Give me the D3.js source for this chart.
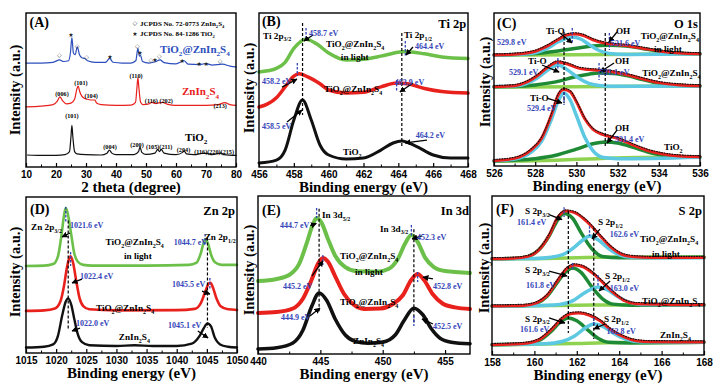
<!DOCTYPE html>
<html><head><meta charset="utf-8">
<script src="https://cdn.jsdelivr.net/npm/d3@7"></script>
<style>
body{margin:0;background:#fff;}
svg text{font-family:"Liberation Serif","Times New Roman",serif;font-weight:bold;}
</style></head><body>
<svg id="c" width="727" height="392"></svg>
<script>
// ---------------- DATA ----------------
// tick labels
const ticksA = [10,20,30,40,50,60,70,80];
const ticksB = [456,458,460,462,464,466,468];
const ticksC = [526,528,530,532,534,536];
const ticksD = [1015,1020,1025,1030,1035,1040,1045,1050];
const ticksE = [440,445,450,455];
const ticksF = [158,160,162,164,166,168];

// (A) XRD: [2theta, intensity]
const xrdTiO2 = [[10.5,7.8],[15,7.5],[20,7.5],[23,8],[24.5,10],[25,20],[25.3,27],[25.6,20],[26.2,10],[27,8.5],[30,8],[35,7.8],[37,9],[37.8,11],[38.6,9],[40,8],[46,8],[47.5,10],[48,13],[48.6,9.5],[50,8.2],[53,9],[53.9,11.5],[54.5,10],[55.1,11.5],[56,9],[60,8],[62.2,9.5],[62.7,10.5],[63.5,8.5],[66,8],[68.8,8.8],[70.3,8.8],[72,8],[75.1,9],[76,8],[80,7.5]];
const xrdZIS = [[10,39],[15,39.5],[19,40.5],[20.5,43],[21.3,45.5],[22.2,43],[23.5,41],[25,41.5],[26.2,44],[27,51],[27.4,52.5],[27.9,49],[28.6,46],[29.5,44.5],[30.5,44],[31.5,43.5],[33,43.5],[33.5,41.5],[35,40.5],[40,40],[45,40.2],[46.5,42],[47,52],[47.3,58],[47.6,52],[48.2,42],[49,40.5],[51,41],[52,42],[53,41.3],[55.5,42],[57,40.8],[60,40],[65,40],[70,40],[74,40.5],[76.3,41.8],[78,40.5],[80,40]];
const xrdComp = [[10,67.5],[15,67.5],[19,68],[21.2,69.5],[22.5,68.5],[24.2,69],[24.8,74],[25.3,84],[25.8,74],[26.4,73],[27.1,78],[27.8,73],[28.6,71],[29.6,70.5],[30.5,69],[33,68],[36.5,68],[37.9,70.5],[39,68],[42,67.5],[45,67.5],[46.6,69],[47.3,77],[47.8,72],[48.2,72.5],[48.8,68.5],[51,67.5],[53,68.3],[54.7,69.5],[56,67.8],[60,67],[62.7,69],[64,66.8],[68,66.5],[69.3,67],[70.3,67],[72,66.2],[75.5,66.8],[78,65.5],[80,65]];
const diamondPos = [[21.1,72.7],[27,78.8],[30.2,71.6],[47.1,78.8],[51.6,69.5],[54.4,72.3],[74.7,68.8]];
const starPos = [[25,85.7],[48,73.8],[38,71.6],[53,69.5],[62.1,68.8],[67.7,66.9],[70.1,66.9]];

// (B) Ti 2p
const tiTiO2 = [[456,2.6],[457,4.5],[457.5,11],[458,30.5],[458.5,43.5],[459,30.5],[459.5,14.3],[460,7.8],[461,5.2],[462,5.8],[463,11],[463.7,15.6],[464.2,16.9],[465,13.6],[466,7.8],[467,5.8],[468,5.8]];
const tiComp = [[456,39],[456.5,41],[457,45],[457.5,52],[458,59],[458.3,60.5],[458.8,58.5],[459.5,54],[460,50],[461,48],[462,48.5],[463,52],[463.9,54.5],[464.5,54],[465.5,51],[466.5,49],[468,48]];
const tiLight = [[456,61.7],[456.5,62.5],[457,64],[457.5,68],[458,77],[458.7,83],[459.3,80],[460,74],[461,69.5],[462,70],[463,72],[464,74.5],[464.4,75],[465.5,73.5],[466.5,71.5],[468,70.5]];

// (C) O 1s (top: in light, middle: composite, bottom: TiO2)
const oTopBase = [[526,72.5],[530,72.7],[533,73.1],[536,73.3]];
const oTopTiO = [[526,72.6],[527,72.8],[528,74],[528.6,77],[529.1,81],[529.5,83.5],[529.8,84.3],[530.2,83],[530.6,79.5],[531.1,75.5],[531.6,73.6],[532.5,72.9],[536,73.3]];
const oTopOH = [[526,72.5],[527,72.8],[528,73.5],[529,75],[530,77],[530.8,78.5],[531.6,79],[532.4,78.5],[533.2,76.8],[534,75],[535,73.7],[536,73.3]];
const oTopEnv = [[526,72.5],[527,73],[528,75],[528.6,78.5],[529.1,82.5],[529.5,85.5],[529.9,86.3],[530.3,85.5],[530.8,82.5],[531.3,80.5],[531.8,79.5],[532.4,78.8],[533.2,77],[534,75.2],[535,73.8],[536,73.3]];
const oMidBase = [[526,51.6],[530,51.8],[533,52.2],[536,52.3]];
const oMidTiO = [[526,52],[527,52.3],[527.6,54],[528.1,57.5],[528.6,62.5],[529.1,66],[529.6,62.5],[530.1,57.5],[530.6,54],[531.2,52.5],[532,52.1],[536,52.3]];
const oMidOH = [[526,51.8],[527,52],[528,53],[529,55],[530,58.5],[530.6,60],[531.1,60.8],[531.8,60.5],[532.5,59],[533.2,56.5],[534,54],[535,52.8],[536,52.3]];
const oMidEnv = [[526,51.8],[527,52.5],[527.6,55],[528.1,59],[528.6,64.5],[529.1,68],[529.6,66.5],[530.1,64],[530.6,63],[531.1,62.5],[531.8,61.5],[532.5,59.5],[533.2,57],[534,54.5],[535,53],[536,52.4]];
const oBotBase = [[526,3.2],[529,3.8],[531,4.8],[533,5.6],[536,5.9]];
const oBotTiO = [[526,3.5],[527,4.5],[527.8,9],[528.3,16],[528.8,31],[529.1,42],[529.4,47.7],[529.7,43],[530,33],[530.4,19],[530.8,10],[531.3,5.5],[532,4.8],[536,5.8]];
const oBotOH = [[526,3.3],[527,3.8],[528,4.8],[529,7],[530,11],[530.8,14.5],[531.4,15.7],[532,15],[532.8,12],[533.5,9],[534.2,7],[535,6.2],[536,5.9]];
const oBotEnv = [[526,3.5],[527,5],[527.8,10.5],[528.3,18],[528.8,34],[529.1,46],[529.4,50],[529.7,48.5],[530,42],[530.4,31],[530.8,24],[531.3,20.5],[532,18],[532.8,13.5],[533.5,10],[534.2,7.8],[535,6.5],[536,6]];

// (D) Zn 2p
const znLight = [[1015,55.8],[1018,56],[1019.5,57],[1020.3,62],[1020.9,76],[1021.3,88],[1021.6,93],[1022,88],[1022.5,76],[1023,64],[1023.6,58.5],[1024.5,56.5],[1026,56],[1035,56],[1042,56.5],[1043.3,58],[1044,64],[1044.5,71],[1044.8,73],[1045.2,70],[1045.7,63],[1046.4,58],[1047.5,56.5],[1050,56.5]];
const znComp = [[1015,27],[1018,27.3],[1019.8,28.5],[1020.7,33],[1021.3,43],[1021.8,55],[1022.2,61],[1022.4,62],[1022.8,58],[1023.3,47],[1023.9,35],[1024.5,30],[1025.5,28],[1030,27.3],[1040,27.5],[1043,28.3],[1044,32],[1044.8,40],[1045.3,44.5],[1045.6,45],[1046,42],[1046.6,35],[1047.3,30],[1048.5,28],[1050,27.6]];
const znZIS = [[1015,3.5],[1018,4],[1019.5,5.5],[1020.3,11],[1021,24],[1021.6,33],[1022,35],[1022.5,31],[1023,22],[1023.6,12],[1024.3,7],[1025.5,5],[1030,4.5],[1033,5],[1036,4.5],[1040,4.5],[1042.5,6],[1043.8,11],[1044.5,16],[1045.1,19],[1045.7,17],[1046.3,10],[1047.2,5.5],[1048.5,4],[1050,3.5]];

// (E) In 3d
const inLight = [[440,46.2],[441.5,47.5],[442.5,50],[443.3,57],[443.9,70],[444.4,82],[444.7,86],[445.1,83],[445.6,73],[446.2,62],[447,55],[448,52.3],[449.5,52],[450.5,54],[451.2,60],[451.8,70],[452.3,75.3],[452.8,71],[453.4,61],[454.1,55],[455,52.5],[457,51.3]];
const inComp = [[440,26],[441.5,26.6],[442.8,28.8],[443.6,35],[444.3,47],[444.8,57],[445.2,60.8],[445.6,58.5],[446.2,49],[446.9,38],[447.7,31],[448.5,28.5],[449.8,28.8],[450.8,31.5],[451.6,37],[452.3,47],[452.8,50.6],[453.3,47],[454,38],[454.8,32],[455.8,29.5],[457,28.5]];
const inZIS = [[440,3.2],[441.5,4],[442.8,7],[443.6,15],[444.3,30],[444.9,38.6],[445.5,34],[446.2,22],[447,12],[447.8,8],[448.8,6.8],[450,7.5],[451,12],[451.7,21],[452.5,29],[453.2,25],[453.9,16],[454.6,10],[455.5,7.5],[457,6.5]];

// (F) S 2p
const sTopBase = [[158,60.4],[160,60.6],[162,61.2],[164,61.6],[168,61.6]];
const sTop32 = [[158,60.5],[159,60.7],[159.7,62],[160.2,66],[160.7,75],[161.1,85],[161.4,89],[161.8,86],[162.2,77],[162.7,67],[163.2,62],[164,61.2],[168,61.5]];
const sTop12 = [[158,60.5],[160,60.7],[160.8,61.5],[161.4,63.5],[161.9,68],[162.3,72.5],[162.6,74.8],[163,72.5],[163.5,67],[164,63],[164.6,61.5],[165.5,61.2],[168,61.2]];
const sTopEnv = [[158,60.5],[159,60.8],[159.7,62],[160.2,66],[160.7,75.5],[161.1,86.5],[161.5,90.5],[161.9,89.5],[162.3,86],[162.7,81],[163.1,75],[163.6,68],[164.1,63.5],[164.7,61.8],[165.5,61.3],[168,61.3]];
const sMidBase = [[158,30.8],[160,31],[162,31.3],[164,31.5],[168,31.5]];
const sMid32 = [[158,30.8],[159.5,31],[160.1,32.5],[160.6,37],[161.1,46],[161.5,52.5],[161.8,54.7],[162.2,52],[162.7,43],[163.2,35.5],[163.7,32],[164.5,31.3],[168,31.5]];
const sMid12 = [[158,30.8],[160,31],[161.2,31.8],[161.8,34],[162.3,38.5],[162.7,41.5],[163,42.8],[163.4,41.2],[163.9,37],[164.4,33.5],[165,31.8],[168,31.5]];
const sMidEnv = [[158,30.8],[159.5,31.2],[160.1,32.8],[160.6,37.5],[161.1,47],[161.5,54],[161.9,56.6],[162.3,55.5],[162.8,51],[163.2,46],[163.7,39.5],[164.2,34.5],[164.8,32.3],[168,31.6]];
const sBotBase = [[158,6.3],[160,6.7],[162,7.3],[164,7.8],[168,8]];
const sBot32 = [[158,6.5],[159.5,7],[160.2,9],[160.8,15],[161.2,20.5],[161.6,23.3],[162,21.5],[162.5,16],[163,10.5],[163.5,8],[164.5,7.6],[168,8]];
const sBot12 = [[158,6.5],[160.5,7],[161.3,8.5],[161.9,12],[162.4,17],[162.8,19.5],[163.2,18.2],[163.7,14],[164.3,10],[165,8.3],[168,8.2]];
const sBotEnv = [[158,6.5],[159.5,7.2],[160.2,9.5],[160.8,16],[161.3,23],[161.7,26],[162.1,26.4],[162.6,25],[163.1,21.5],[163.6,16],[164.2,11.5],[164.8,9],[165.5,8.3],[168,8.2]];

// ---------------- STYLE / LAYOUT ----------------
const RED = "#e8211d", BLK = "#111", LGREEN = "#6cc04a", DGREEN = "#1e8a35", CYAN = "#5cc8e2", BASEG = "#8fd24f", ABLUE = "#2d4fbd", TXTBLUE = "#3446b8";
const STY = {panel:{s:14}, big:{s:12.5}, lab:{s:9.2}, ev:{s:8,c:TXTBLUE}, leg:{s:7}, hkl:{s:6.2}, alab:{s:11}};

function fitSet(top, mid, bot){
  const out=[];
  [top,mid,bot].forEach(s=>{
    out.push({d:s[0], c:BASEG, w:3.5});
    out.push({d:s[2], c:DGREEN, w:3.5});
    out.push({d:s[1], c:CYAN, w:3.5});
    out.push({d:s[3], c:RED, w:3});
    out.push({d:s[3], c:BLK, w:1.1, dash:"1,1.6", dy:-1.2});
  });
  return out;
}

const panels = [
 {l:26,r:236,t:13,b:167, dom:[10,80], ticks:ticksA, title:"2 theta (degree)", yl:[20,90],
  curves:[{d:xrdComp,c:ABLUE,w:1.2},{d:xrdZIS,c:RED,w:1.2},{d:xrdTiO2,c:BLK,w:1.2}],
  vlines:[], marks:[], arrows:[],
  labels:[["(A)",11.2,90.9,"panel"],["JCPDS No. 72-0773 ZnIn_2S_4",48,91.6,"leg"],["JCPDS No. 84-1286 TiO_2",48,85,"leg"],
   ["TiO_2@ZnIn_2S_4",54.7,74.2,"alab",ABLUE],["ZnIn_2S_4",62,46.5,"alab",RED],["TiO_2",63,16.9,"alab"],
   ["(006)",22,46,"hkl",null,"middle"],["(101)",28.3,53,"hkl",null,"middle"],["(104)",31.7,44.5,"hkl",null,"middle"],["(110)",46.7,57.5,"hkl",null,"middle"],
   ["(116)",51.8,41.6,"hkl",null,"middle"],["(202)",56.7,41.6,"hkl",null,"middle"],["(213)",74.7,38,"hkl",null,"middle"],
   ["(101)",25.3,32.1,"hkl",null,"middle"],["(004)",38,12,"hkl",null,"middle"],["(200)",47,13.3,"hkl",null,"middle"],["(105)(211)",54.4,11.7,"hkl",null,"middle"],
   ["(204)",62.5,9.9,"hkl",null,"middle"],["(116)(220)(215)",72.7,8.4,"hkl",null,"middle"]],
  sym:true},
 {l:259,r:468,t:13,b:167, dom:[456,468], ticks:ticksB, title:"Binding energy (eV)", yl:[254,88],
  curves:[{d:tiLight,c:LGREEN,w:3.5},{d:tiComp,c:RED,w:3.5},{d:tiTiO2,c:BLK,w:3}],
  vlines:[[458.5,93.5,33.8],[464.2,87,13]],
  marks:[[458.7,90.3,82.5],[464.4,81.8,71.4],[458.2,67.5,59.1],[463.9,56.5,48.7]],
  arrows:[[459.1,85.7,458.58,81.8],[457.32,51.9,458.18,57.1],[464.84,54.5,464.09,48.7],[457.61,29.2,458.47,37],[465.64,17.5,464.38,15.6],[464.84,77.9,464.44,72.7]],
  labels:[["(B)",456.17,91.6,"panel"],["Ti 2p",467.9,90.3,"big",null,"end"],["Ti 2p_{3/2}",456.23,83.4,"lab"],["458.7 eV",458.87,85,"ev"],
   ["Ti 2p_{1/2}",464.32,83.6,"lab"],["TiO_2@ZnIn_2S_4",459.85,77.8,"lab"],["in light",460.7,69.3,"lab"],["464.4 eV",464.95,76.5,"ev"],
   ["458.2 eV",456.17,53.9,"ev"],["TiO_2@ZnIn_2S_4",459.73,48.7,"lab"],["463.9 eV",463.8,53.2,"ev"],["458.5 eV",456.17,24.7,"ev"],
   ["464.2 eV",465.0,18.8,"ev"],["TiO_2",460.82,7.8,"lab"]]},
 {l:494,r:700,t:13,b:166, dom:[526,536], ticks:ticksC, title:"Binding energy (eV)", yl:[490,82],
  curves:fitSet([oTopBase,oTopTiO,oTopOH,oTopEnv],[oMidBase,oMidTiO,oMidOH,oMidEnv],[oBotBase,oBotTiO,oBotOH,oBotEnv]),
  vlines:[[529.4,87.6,41],[531.4,87,12.4]],
  marks:[[529.8,90.2,81],[531.6,86.9,75.8],[529.1,70.6,62.7],[531.1,67.3,56.2],[529.4,48.4,39.9]],
  arrows:[[529.2,86.9,529.79,80.4],[531.97,87.6,531.58,81],[528.33,66,529.16,61.4],[531.83,67.3,531.15,61.4],[528.57,44.4,529.3,41.2],[531.97,23.5,531.49,15]],
  labels:[["(C)",526.15,90.2,"panel"],["O 1s",535.9,90.2,"big",null,"end"],["Ti-O",528.52,86.2,"lab"],["529.8 eV",526.15,79.1,"ev"],
   ["OH",531.92,86.2,"lab"],["531.6 eV",531.68,78.5,"ev"],["TiO_2@ZnIn_2S_4",533.12,82.8,"lab"],["in light",533.77,74.4,"lab"],
   ["Ti-O",527.65,66.5,"lab"],["529.1 eV",526.73,59.5,"ev"],["OH",531.87,66.5,"lab"],["531.1 eV",531.15,59.5,"ev"],["TiO_2@ZnIn_2S_4",533.2,58.8,"lab"],
   ["Ti-O",527.75,42.5,"lab"],["529.4 eV",527.6,36.2,"ev"],["OH",531.87,22.8,"lab"],["531.4 eV",531.87,16,"ev"],["TiO_2",534.25,10.5,"lab"]]},
 {l:26,r:237,t:197,b:353, dom:[1015,1050], ticks:ticksD, title:"Binding energy (eV)", yl:[20,272],
  curves:[{d:znLight,c:LGREEN,w:2.6},{d:znComp,c:RED,w:2.6},{d:znZIS,c:BLK,w:2.4}],
  vlines:[[1022,85,15],[1045.1,74,16]],
  marks:[[1021.6,93.6,84],[1044.7,76.3,68.6],[1022.4,64.7,55.8],[1045.5,48,40.4]],
  arrows:[[1022.3,76.9,1020.97,74.4],[1024.29,47.4,1022.63,44.9],[1044.2,39.7,1045.5,37.8],[1023.96,16,1022.63,14.1],[1043.5,14.1,1045.2,9.6]],
  labels:[["(D)",1015.66,89.1,"panel"],["Zn 2p",1049.66,88.5,"big",null,"end"],["Zn 2p_{3/2}",1015.83,78.8,"lab"],["1021.6 eV",1022.3,80.1,"ev"],
   ["Zn 2p_{1/2}",1044.65,72.5,"lab"],["TiO_2@ZnIn_2S_4",1028.2,69.2,"lab"],["1044.7 eV",1039.5,69.2,"ev"],["in light",1031.25,60.3,"lab"],
   ["1022.4 eV",1023.95,47.4,"ev"],["1045.5 eV",1039.2,42.3,"ev"],["TiO_2@ZnIn_2S_4",1026.6,26.9,"lab"],["1022.0 eV",1023.3,17.3,"ev"],
   ["1045.1 eV",1038.55,16,"ev"],["ZnIn_2S_4",1030.4,8.3,"lab"]]},
 {l:258,r:470,t:196,b:354, dom:[440,457], ticks:ticksE, title:"Binding energy (eV)", yl:[254,270],
  curves:[{d:inLight,c:LGREEN,w:4},{d:inComp,c:RED,w:4},{d:inZIS,c:BLK,w:3.6}],
  vlines:[[444.9,92,27],[452.5,79,19.6]],
  marks:[[444.7,92.4,86],[452.3,81.6,74],[445.2,62.7,56.3],[452.8,51.9,45.6],[452.5,24,17.7]],
  arrows:[[444.2,81.2,444.68,82.6],[453.15,74.7,452.35,72.8],[444.33,49.4,445.21,58.9],[454.03,47.5,453.23,48.7],[444.17,24,444.97,29.1],[454.03,19,453.15,22.2]],
  labels:[["(E)",440.32,88,"panel"],["In 3d",456.92,88,"big",null,"end"],["In 3d_{5/2}",445.13,86.1,"lab"],["444.7 eV",441.76,79.7,"ev"],
   ["In 3d_{3/2}",449.78,77.5,"lab"],["452.3 eV",452.75,72.3,"ev"],["TiO_2@ZnIn_2S_4",446.58,60.1,"lab"],["in light",447.78,50,"lab"],
   ["445.2 eV",442.0,41.1,"ev"],["452.8 eV",454.03,41.1,"ev"],["TiO_2@ZnIn_2S_4",446.58,31,"lab"],["444.9 eV",441.84,21.5,"ev"],
   ["452.5 eV",454.03,15.8,"ev"],["ZnIn_2S_4",447.62,6.3,"lab"]]},
 {l:492,r:704,t:196,b:355, dom:[158,168], ticks:ticksF, title:"Binding energy (eV)", yl:[489,268],
  curves:fitSet([sTopBase,sTop12,sTop32,sTopEnv],[sMidBase,sMid12,sMid32,sMidEnv],[sBotBase,sBot12,sBot32,sBotEnv]),
  vlines:[[161.6,90.6,13.8],[162.8,80,10]],
  marks:[[161.4,93,86.8],[162.6,81,74.8],[161.8,57.9,52.8],[163.0,50.3,42.8],[162.8,23.3,18.2]],
  arrows:[[160.69,88.3,161.3,85.2],[163.09,79.2,162.72,73],[160.69,52.8,161.54,49.7],[163.57,46.5,163.05,40.3],[160.69,23.3,161.44,20.1],[163.33,19.5,162.81,16.4]],
  labels:[["(F)",158.19,88.7,"panel"],["S 2p",167.9,88,"big",null,"end"],["S 2p_{3/2}",159.56,88.5,"lab"],["161.4 eV",159.18,81.5,"ev"],
   ["S 2p_{1/2}",163.0,81.5,"lab"],["162.6 eV",163.55,74.3,"ev"],["TiO_2@ZnIn_2S_4",164.98,70.8,"lab"],["in light",165.55,61.6,"lab"],
   ["S 2p_{3/2}",159.56,51.5,"lab"],["161.8 eV",159.6,42.1,"ev"],["S 2p_{1/2}",163.33,47.5,"lab"],["163.0 eV",163.55,40.5,"ev"],["TiO_2@ZnIn_2S_4",165.08,32.1,"lab"],
   ["S 2p_{3/2}",159.56,21,"lab"],["161.6 eV",159.32,14.2,"ev"],["S 2p_{1/2}",163.28,20.5,"lab"],["162.8 eV",163.4,13.4,"ev"],["ZnIn_2S_4",165.92,10.7,"lab"]]}
];

// ---------------- DRAW ----------------
const svg = d3.select('#c');
svg.append('rect').attr('width',727).attr('height',392).attr('fill','#fff');
svg.append('defs').append('marker').attr('id','ah').attr('viewBox','0 0 10 10').attr('refX',9).attr('refY',5)
  .attr('markerWidth',6).attr('markerHeight',6).attr('markerUnits','userSpaceOnUse').attr('orient','auto')
  .append('path').attr('d','M0,0L10,5L0,10z').attr('fill','#000');

function rich(el, str, s){
  const parts = str.split(/(_\{[^}]*\}|_[^{])/);
  let shifted = false;
  parts.forEach(p=>{
    if(!p) return;
    if(p[0]==='_'){
      const sub = p[1]==='{' ? p.slice(2,-1) : p.slice(1);
      el.append('tspan').attr('dy', shifted?0:s*0.3).attr('font-size', s*0.65).text(sub);
      shifted = true;
    } else {
      el.append('tspan').attr('dy', shifted?-s*0.3:0).text(p);
      shifted = false;
    }
  });
}

panels.forEach(p=>{
  const g = svg.append('g');
  const x = d3.scaleLinear().domain(p.dom).range([p.l,p.r]);
  const y = d3.scaleLinear().domain([0,100]).range([p.b,p.t]);
  const line = d3.line().x(d=>x(d[0])).y(d=>y(d[1])).curve(d3.curveMonotoneX);
  p.curves.forEach(c=>{
    g.append('path').datum(c.d).attr('d',line).attr('fill','none').attr('stroke',c.c).attr('stroke-width',c.w)
     .attr('stroke-dasharray',c.dash||null).attr('stroke-linejoin','round').attr('stroke-linecap','round')
     .attr('transform', c.dy?`translate(0,${c.dy})`:null);
  });
  p.vlines.forEach(v=>g.append('line').attr('x1',x(v[0])).attr('x2',x(v[0])).attr('y1',y(v[1])).attr('y2',y(v[2]))
     .attr('stroke','#000').attr('stroke-width',1.2).attr('stroke-dasharray','3,2'));
  p.marks.forEach(v=>g.append('line').attr('x1',x(v[0])).attr('x2',x(v[0])).attr('y1',y(v[1])).attr('y2',y(v[2]))
     .attr('stroke',TXTBLUE).attr('stroke-width',1.3).attr('stroke-dasharray','2.5,1.5'));
  p.arrows.forEach(a=>g.append('line').attr('x1',x(a[0])).attr('y1',y(a[1])).attr('x2',x(a[2])).attr('y2',y(a[3]))
     .attr('stroke','#000').attr('stroke-width',1.3).attr('marker-end','url(#ah)'));
  p.labels.forEach(L=>{
    const st = STY[L[3]];
    const el = g.append('text').attr('x',x(L[1])).attr('y',y(L[2])).attr('font-size',st.s)
      .attr('fill', L[4] || st.c || '#000').attr('text-anchor', L[5]||'start');
    rich(el, L[0], st.s);
  });
  if(p.sym){
    diamondPos.forEach(d=>g.append('text').attr('x',x(d[0])).attr('y',y(d[1])).attr('dy','0.35em').attr('text-anchor','middle')
      .style('font-family','DejaVu Sans').style('font-weight','normal').attr('font-size',6).attr('fill','#333').text('\u25C7'));
    starPos.forEach(d=>g.append('text').attr('x',x(d[0])).attr('y',y(d[1])).attr('dy','0.35em').attr('text-anchor','middle')
      .style('font-family','DejaVu Sans').style('font-weight','normal').attr('font-size',6).attr('fill','#222').text('\u2605'));
    [[46.3,93.3,'\u25C7'],[46.3,86.7,'\u2605']].forEach(d=>g.append('text').attr('x',x(d[0])).attr('y',y(d[1])).attr('dy','0.35em')
      .attr('text-anchor','middle').style('font-family','DejaVu Sans').style('font-weight','normal').attr('font-size',6).attr('fill','#222').text(d[2]));
  }
  g.append('rect').attr('x',p.l).attr('y',p.t).attr('width',p.r-p.l).attr('height',p.b-p.t)
    .attr('fill','none').attr('stroke','#000').attr('stroke-width',1.4);
  const step = p.ticks[1]-p.ticks[0];
  const minor = p.ticks.slice(0,-1).map(t=>t+step/2);
  const ag = g.append('g').attr('transform',`translate(0,${p.b})`)
    .call(d3.axisBottom(x).tickValues(p.ticks).tickSize(-4).tickPadding(4).tickFormat(d3.format('d')));
  ag.select('.domain').remove();
  ag.selectAll('line').attr('stroke','#000').attr('stroke-width',1.2);
  ag.selectAll('text').style('font-family','"Liberation Sans",Arial,sans-serif').style('font-weight','bold').attr('font-size',10).attr('fill','#000');
  const mg = g.append('g').attr('transform',`translate(0,${p.b})`)
    .call(d3.axisBottom(x).tickValues(minor).tickSize(-2.5).tickFormat(''));
  mg.select('.domain').remove();
  mg.selectAll('line').attr('stroke','#000').attr('stroke-width',1);
  g.append('text').attr('x',(p.l+p.r)/2).attr('y',p.b+25).attr('text-anchor','middle').attr('font-size',15).attr('fill','#000').text(p.title);
  g.append('text').attr('transform',`translate(${p.yl[0]},${p.yl[1]}) rotate(-90)`).attr('text-anchor','middle')
    .attr('font-size',14.5).attr('fill','#000').text('Intensity (a.u.)');
});
</script>
</body></html>
